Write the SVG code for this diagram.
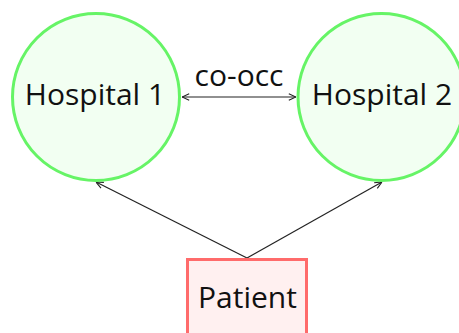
<svg xmlns="http://www.w3.org/2000/svg" width="459" height="333" viewBox="0 0 459 333">
<style>
.hosp{fill:#f2fff2;stroke:#66f466;stroke-width:3}
.pat{fill:#fff0f0;stroke:#ff6b6b;stroke-width:3}
.lbl{font-family:"Open Sans","Noto Sans",sans-serif;font-size:30px;fill:#111;text-anchor:middle}
.edge{stroke:#222;stroke-width:1.2;fill:none}
</style>
<defs>
<marker id="ah" viewBox="0 0 10 10" refX="10" refY="5" markerWidth="8" markerHeight="8" markerUnits="userSpaceOnUse" orient="auto-start-reverse">
<path d="M1,1 L10,5 L1,9" fill="none" stroke="#222" stroke-width="1.4"/>
</marker>
</defs>
<g id="connectors">
<line class="edge" x1="182" y1="97" x2="296" y2="97" marker-start="url(#ah)" marker-end="url(#ah)"/>
<line class="edge" x1="247" y1="258" x2="96" y2="182" marker-end="url(#ah)"/>
<line class="edge" x1="247" y1="258" x2="382" y2="182" marker-end="url(#ah)"/>
<text class="lbl" x="239" y="86">co-occ</text>
</g>
<g id="hospital1">
<circle class="hosp" cx="96" cy="97" r="83.5"/>
<text class="lbl" x="95" y="105">Hospital 1</text>
</g>
<g id="hospital2">
<circle class="hosp" cx="381.5" cy="97" r="83.5"/>
<text class="lbl" x="382" y="105">Hospital 2</text>
</g>
<g id="patient">
<rect class="pat" x="187.5" y="259.5" width="119" height="90"/>
<text class="lbl" x="247.5" y="308">Patient</text>
</g>
</svg>
